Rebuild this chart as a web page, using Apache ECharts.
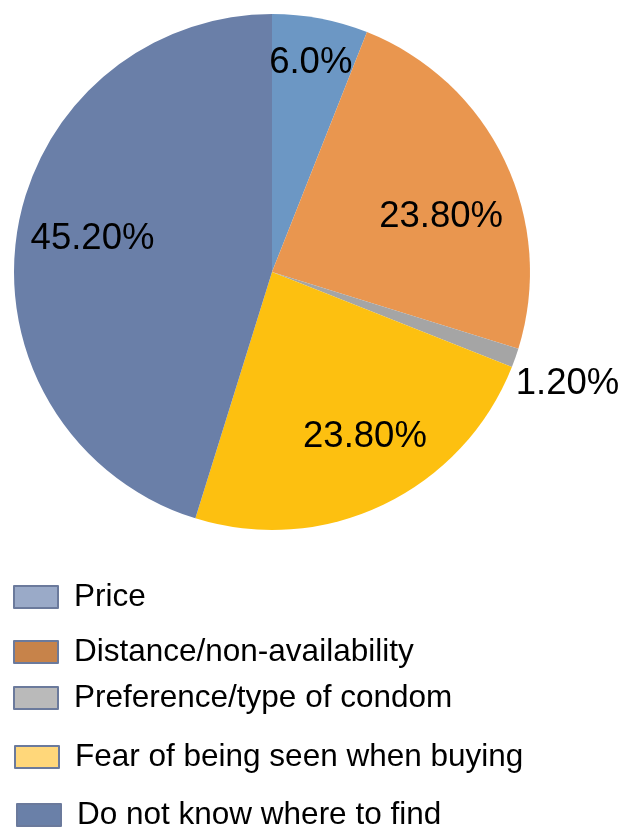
<!DOCTYPE html>
<html>
<head>
<meta charset="utf-8">
<script src="https://cdn.jsdelivr.net/npm/echarts@6/dist/echarts.min.js"></script>
<style>html,body{margin:0;padding:0;background:#fff}#c{width:619px;height:827px}</style>
</head>
<body>
<div id="c"></div>
<script>
const categories = ["Price", "Distance/non-availability", "Preference/type of condom", "Fear of being seen when buying", "Do not know where to find"];
const values = [6.0, 23.8, 1.2, 23.8, 45.2];
const labelTexts = ["6.0%", "23.80%", "1.20%", "23.80%", "45.20%"];

const sliceColors = ["#6c97c4", "#e9964f", "#a5a5a5", "#fdc010", "#6a7fa8"];
const legendFill = ["#9aaac8", "#c7834a", "#bababa", "#ffd77a", "#6a80a8"];
const legendBorder = "#6b7a9c";
// label nudges relative to default inside position (style only)
const labelNudge = [[14, -79], [50, 2], [171, 68], [36, 46], [-49, -13]];
const legendPos = [[13, 581], [13, 636], [13, 682], [14, 741], [16, 799]];

const chart = echarts.init(document.getElementById('c'), null, {renderer: 'canvas'});

const legends = categories.map((name, i) => ({
  left: legendPos[i][0],
  top: legendPos[i][1],
  orient: 'vertical',
  padding: 0,
  itemWidth: 44,
  itemHeight: 22,
  selectedMode: false,
  icon: 'rect',
  data: [{name: name, itemStyle: {color: legendFill[i], borderColor: legendBorder, borderWidth: 2}}],
  textStyle: {fontFamily: 'Liberation Sans, Arial, sans-serif', fontSize: 31.5, color: '#000', padding: [0, 0, 0, 11], lineHeight: 24}
}));

chart.setOption({
  animation: false,
  legend: legends,
  series: [{
    type: 'pie',
    center: [272, 272],
    radius: [0, 258],
    startAngle: 90,
    clockwise: true,
    avoidLabelOverlap: false,
    itemStyle: {borderWidth: 0},
    label: {
      show: true,
      position: 'inside',
      fontFamily: 'Liberation Sans, Arial, sans-serif',
      fontSize: 36.5,
      color: '#000',
      formatter: p => labelTexts[p.dataIndex]
    },
    labelLine: {show: false},
    labelLayout: p => ({dx: labelNudge[p.dataIndex][0], dy: labelNudge[p.dataIndex][1]}),
    emphasis: {disabled: true},
    data: categories.map((name, i) => ({name: name, value: values[i], itemStyle: {color: sliceColors[i]}}))
  }]
});
</script>
</body>
</html>
